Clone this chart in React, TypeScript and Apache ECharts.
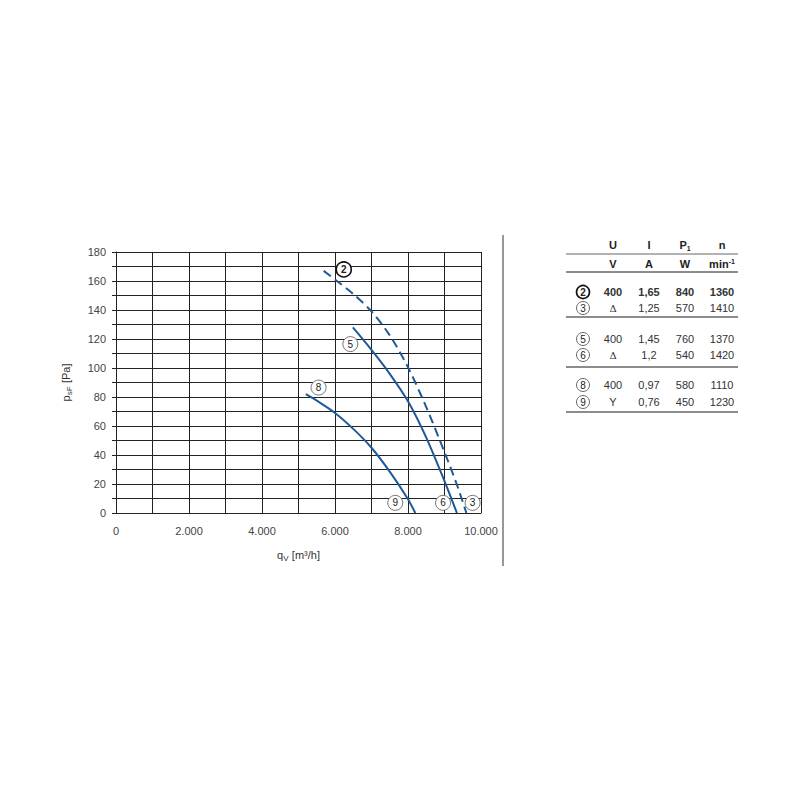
import React, { useEffect, useRef } from "react";
import * as echarts from "echarts";

// Characteristic curves (q_v in m³/h, p_sF in Pa)
const curve3: number[][] = [
  [5690, 167], [6000, 161], [6500, 151], [7000, 139], [7500, 122.5],
  [8000, 100.5], [8500, 73], [9000, 42], [9340, 19.5], [9600, 0],
];
const curve6: number[][] = [
  [6490, 128], [7000, 112.5], [7500, 96], [8000, 77], [8500, 52], [9000, 22], [9340, 0],
];
const curve9: number[][] = [
  [5200, 82], [5500, 77.5], [6000, 69], [6500, 58], [7000, 45], [7500, 28.5], [8000, 9.5], [8200, 0],
];
// curve marker labels: [x, y, number, bold]
const curveLabels: [number, number, string, boolean][] = [
  [6240, 168, "2", true],
  [6420, 116.5, "5", false],
  [5550, 86.5, "8", false],
  [7650, 7, "9", false],
  [8960, 7, "6", false],
  [9770, 7, "3", false],
];

const xTicks = [0, 2000, 4000, 6000, 8000, 10000];
const yTicks = [0, 20, 40, 60, 80, 100, 120, 140, 160, 180];

// Table
const tableHeader = ["U", "I", "P1", "n"];
const tableUnits = ["V", "A", "W", "min-1"];
const tableRows: string[][] = [
  ["2", "400", "1,65", "840", "1360"],
  ["3", "Δ", "1,25", "570", "1410"],
  ["5", "400", "1,45", "760", "1370"],
  ["6", "Δ", "1,2", "540", "1420"],
  ["8", "400", "0,97", "580", "1110"],
  ["9", "Y", "0,76", "450", "1230"],
];

const FONT = "'Liberation Sans', Arial, sans-serif";
const BLUE = "#1f5a96";

function fmtThousands(v: number) {
  if (v === 0) return "0";
  return Math.round(v / 1000) + ".000";
}

export default function App() {
  const ref = useRef<HTMLDivElement>(null);
  useEffect(() => {
    if (!ref.current) return;
    const chart = echarts.init(ref.current, undefined, { renderer: "svg" });

    const colX = [583, 613, 649, 685, 722];
    const rowY = [292, 308, 339, 355, 385, 402];
    const graphic: any[] = [];
    // divider
    graphic.push({ type: "line", shape: { x1: 503, y1: 235, x2: 503, y2: 566 }, style: { stroke: "#333", lineWidth: 1 } });
    // table header
    tableHeader.forEach((h, i) => {
      const isP = h === "P1";
      graphic.push({
        type: "text", x: colX[i + 1], y: 245,
        style: {
          text: isP ? "{b|P}{s|1}" : "{b|" + h + "}",
          align: "center", verticalAlign: "middle",
          rich: {
            b: { fontFamily: FONT, fontSize: 11, fontWeight: "bold", fill: "#222" },
            s: { fontFamily: FONT, fontSize: 7, fontWeight: "bold", fill: "#222", padding: [6, 0, 0, 0] },
          },
        },
      });
    });
    tableUnits.forEach((u, i) => {
      const isMin = u === "min-1";
      graphic.push({
        type: "text", x: colX[i + 1], y: 264,
        style: {
          text: isMin ? "{b|min}{s|-1}" : "{b|" + u + "}",
          align: "center", verticalAlign: "middle",
          rich: {
            b: { fontFamily: FONT, fontSize: 11, fontWeight: "bold", fill: "#222" },
            s: { fontFamily: FONT, fontSize: 7, fontWeight: "bold", fill: "#222", padding: [0, 0, 6, 0] },
          },
        },
      });
    });
    // table lines
    [[254, 1], [272, 1.5], [317, 1.5], [367, 1.5], [412, 1.5]].forEach(([y, w]) => {
      graphic.push({ type: "line", shape: { x1: 566, y1: y, x2: 738, y2: y }, style: { stroke: "#666", lineWidth: w } });
    });
    tableRows.forEach((row, r) => {
      const bold = r === 0;
      graphic.push({
        type: "circle", shape: { cx: colX[0], cy: rowY[r], r: 6.5 },
        style: { fill: "#fff", stroke: bold ? "#111" : "#555", lineWidth: bold ? 1.6 : 0.9 },
      });
      graphic.push({
        type: "text", x: colX[0], y: rowY[r] + 0.5,
        style: { text: row[0], align: "center", verticalAlign: "middle", fontFamily: FONT, fontSize: 10, fontWeight: bold ? "bold" : "normal", fill: "#222" },
      });
      for (let c = 1; c < row.length; c++) {
        graphic.push({
          type: "text", x: colX[c], y: rowY[r],
          style: {
            text: row[c], align: "center", verticalAlign: "middle",
            fontFamily: row[c] === "Δ" ? "'DejaVu Serif', serif" : FONT,
            fontSize: row[c] === "Δ" ? 10 : 11,
            fontWeight: bold ? "bold" : "normal", fill: "#333",
          },
        });
      }
    });

    const lineCommon = {
      type: "line", smooth: 0.3, showSymbol: false, symbol: "none",
      silent: true,
    };

    chart.setOption({
      animation: false,
      backgroundColor: "#fff",
      grid: { left: 116, right: 319, top: 252, bottom: 287, containLabel: false },
      xAxis: {
        type: "value", min: 0, max: 10000, interval: 1000,
        name: "{a|q}{s|V} {a|[m³/h]}", nameLocation: "middle", nameGap: 35,
        nameTextStyle: {
          rich: {
            a: { fontFamily: FONT, fontSize: 11, color: "#333" },
            s: { fontFamily: FONT, fontSize: 8, color: "#333", padding: [6, 0, 0, 0] },
          },
        },
        axisLine: { show: true, lineStyle: { color: "#222", width: 1 } },
        axisTick: { show: false },
        splitLine: { show: true, lineStyle: { color: "#222", width: 1 } },
        axisLabel: {
          interval: 0, margin: 12, fontFamily: FONT, fontSize: 11, color: "#444",
          formatter: (v: number) => (xTicks.includes(v) ? fmtThousands(v) : ""),
        },
      },
      yAxis: {
        type: "value", min: 0, max: 180, interval: 10,
        name: "{a|p}{s|sF} {a|[Pa]}", nameLocation: "middle", nameGap: 43, nameRotate: 90,
        nameTextStyle: {
          rich: {
            a: { fontFamily: FONT, fontSize: 11, color: "#333" },
            s: { fontFamily: FONT, fontSize: 8, color: "#333", padding: [6, 0, 0, 0] },
          },
        },
        axisLine: { show: true, lineStyle: { color: "#222", width: 1 } },
        axisTick: { show: true, length: 4, lineStyle: { color: "#222" } },
        splitLine: { show: true, lineStyle: { color: "#222", width: 1 } },
        axisLabel: {
          interval: 0, margin: 10, fontFamily: FONT, fontSize: 11, color: "#444",
          formatter: (v: number) => (yTicks.includes(v) ? String(v) : ""),
        },
      },
      graphic,
      series: [
        { ...lineCommon, name: "2/3", data: curve3, lineStyle: { color: BLUE, width: 2, type: [9, 5] } },
        { ...lineCommon, name: "5/6", data: curve6, lineStyle: { color: BLUE, width: 2 } },
        { ...lineCommon, name: "8/9", data: curve9, lineStyle: { color: BLUE, width: 2 } },
        {
          type: "scatter", silent: true, z: 5,
          data: curveLabels.map(([x, y, t, b]) => ({
            value: [x, y], name: t,
            symbolSize: 15,
            itemStyle: { color: "#fff", borderColor: b ? "#111" : "#666", borderWidth: b ? 1.6 : 0.9, opacity: 1 },
            label: {
              show: true, position: "inside", formatter: t,
              fontFamily: FONT, fontSize: 10, color: "#222", fontWeight: b ? "bold" : "normal",
            },
          })),
        },
      ],
    });
    return () => chart.dispose();
  }, []);
  return (
    <div
      ref={ref}
      style={{ position: "absolute", left: 0, top: 0, width: 800, height: 800 }}
    />
  );
}
